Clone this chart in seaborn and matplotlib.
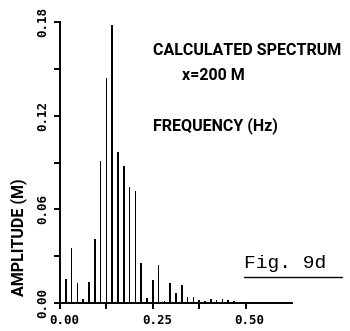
import matplotlib
matplotlib.use("Agg")
import matplotlib.pyplot as plt
import matplotlib.transforms as mtransforms
import pandas as pd
import seaborn as sns

# Spectral line frequencies (Hz) and amplitudes (M)
freq_hz = [0.0156, 0.0313, 0.0469, 0.0625, 0.0781, 0.0938, 0.1094, 0.1250,
           0.1406, 0.1563, 0.1719, 0.1875, 0.2031, 0.2188, 0.2344, 0.2500,
           0.2656, 0.2813, 0.2969, 0.3125, 0.3281, 0.3438, 0.3594, 0.3750,
           0.3906, 0.4063, 0.4219, 0.4375, 0.4531, 0.4688]
amplitude_m = [0.0154, 0.0354, 0.0128, 0.0026, 0.0135, 0.0410, 0.0912, 0.1440,
               0.1780, 0.0970, 0.0880, 0.0740, 0.0720, 0.0254, 0.0030, 0.0147,
               0.0244, 0.0012, 0.0130, 0.0062, 0.0115, 0.0040, 0.0040, 0.0020,
               0.0015, 0.0025, 0.0020, 0.0025, 0.0020, 0.0015]

x_ticks = [0.0, 0.125, 0.25, 0.375, 0.5]
x_tick_labels = ["0.00", "", "0.25", "", "0.50"]
y_ticks = [0.0, 0.03, 0.06, 0.09, 0.12, 0.15, 0.18]
y_tick_labels = ["0.00", "", "0.06", "", "0.12", "", "0.18"]

df = pd.DataFrame({"freq": freq_hz, "amp": amplitude_m})

sns.set_style("ticks")
plt.rcParams.update({"text.color": "black", "axes.labelcolor": "black",
                     "xtick.color": "black", "ytick.color": "black"})

fig = plt.figure(figsize=(3.5, 3.31), dpi=100)
ax = fig.add_axes([60 / 350, 28 / 331, 232 / 350, 281 / 331])

sns.barplot(data=df, x="freq", y="amp", native_scale=True, color="black",
            saturation=1, width=0.28, linewidth=0, errorbar=None, ax=ax)

ax.set_xlim(0, 0.625)
ax.set_ylim(0, 0.18)
sns.despine(ax=ax)
for side in ("left", "bottom"):
    ax.spines[side].set_linewidth(1.4)
    ax.spines[side].set_color("black")

mono = {"family": "DejaVu Sans Mono", "weight": "bold", "size": 9}
ax.set_xticks(x_ticks)
ax.set_xticklabels(x_tick_labels, fontdict=mono)
ax.set_yticks(y_ticks)
ax.set_yticklabels(y_tick_labels, fontdict=mono, rotation=90, va="center")
ax.tick_params(direction="out", length=4, width=1.4, color="black", pad=4)
shift = mtransforms.ScaledTranslation(4 / 100, 0, fig.dpi_scale_trans)
for lbl in ax.get_xticklabels():
    lbl.set_transform(lbl.get_transform() + shift)

ax.set_xlabel("")
label_font = {"family": "Roboto", "weight": "bold", "size": 11.5}
ax.set_ylabel("AMPLITUDE (M)", fontdict=label_font, va="center")
ax.yaxis.set_label_coords(-0.177, 0.235)

ax.text(0.25, 0.1615, "CALCULATED SPECTRUM", fontdict=label_font,
        va="center", ha="left")
ax.text(0.328, 0.146, "x=200 M", fontdict=label_font, va="center", ha="left")
ax.text(0.25, 0.1135, "FREQUENCY (Hz)", fontdict=label_font,
        va="center", ha="left")
ax.text(0.497, 0.0224, "Fig. 9d", family="Liberation Mono", size=14,
        va="baseline", ha="left", clip_on=False)
ax.plot([0.497, 0.761], [0.0167, 0.0167], color="black", lw=1.0,
        clip_on=False)

fig.savefig("out.png", dpi=100)
